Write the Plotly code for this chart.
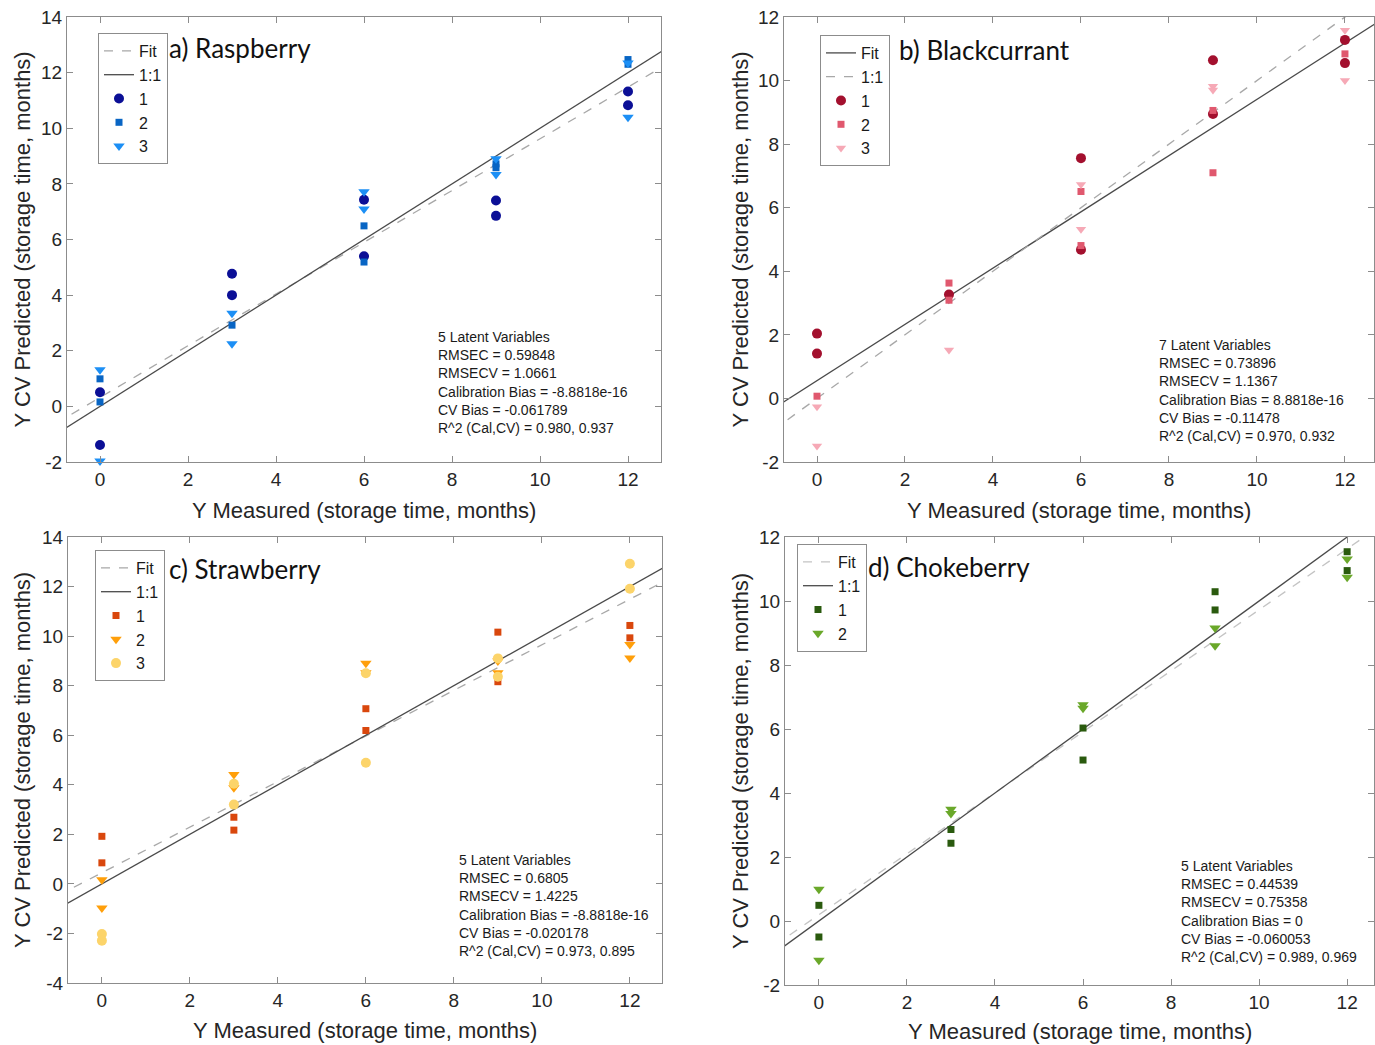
import plotly.graph_objects as go

W, H = 1375, 1045

# ---------------- data ----------------
# a) Raspberry
a_x1 = [0, 0, 3, 3, 6, 6, 9, 9, 12, 12]
a_y1 = [0.51, -1.39, 4.77, 4.00, 7.43, 5.40, 7.40, 6.85, 11.32, 10.83]
a_x2 = [0, 0, 3, 6, 6, 9, 9, 12, 12]
a_y2 = [0.99, 0.16, 2.92, 6.49, 5.19, 8.72, 8.58, 12.47, 12.30]
a_x3 = [0, 0, 3, 3, 6, 6, 9, 9, 12, 12]
a_y3 = [1.32, -1.96, 3.35, 2.25, 7.72, 7.10, 8.90, 8.34, 12.35, 10.40]
a_fit = (0.93, 0.32)
a_stats = ["5 Latent Variables", "RMSEC = 0.59848", "RMSECV = 1.0661",
           "Calibration Bias = -8.8818e-16", "CV Bias = -0.061789",
           "R^2 (Cal,CV) = 0.980, 0.937"]

# b) Blackcurrant
b_x1 = [0, 0, 3, 6, 6, 9, 9, 12, 12]
b_y1 = [2.04, 1.41, 3.27, 7.56, 4.68, 10.64, 8.95, 11.28, 10.55]
b_x2 = [0, 3, 3, 6, 6, 9, 9, 12]
b_y2 = [0.07, 3.63, 3.09, 6.51, 4.81, 9.06, 7.10, 10.84]
b_x3 = [0, 0, 3, 6, 6, 9, 9, 12, 12]
b_y3 = [-0.26, -1.50, 1.52, 6.73, 5.32, 9.82, 9.70, 11.58, 10.00]
b_fit = (0.885, 0.56)
b_stats = ["7 Latent Variables", "RMSEC = 0.73896", "RMSECV = 1.1367",
           "Calibration Bias = 8.8818e-16", "CV Bias = -0.11478",
           "R^2 (Cal,CV) = 0.970, 0.932"]

# c) Strawberry
c_x1 = [0, 0, 3, 3, 6, 6, 9, 9, 12, 12]
c_y1 = [1.92, 0.85, 2.69, 2.17, 7.07, 6.19, 10.16, 8.16, 10.43, 9.93]
c_x2 = [0, 0, 3, 3, 6, 6, 9, 9, 12, 12]
c_y2 = [0.17, -0.97, 4.41, 3.88, 8.90, 8.52, 8.52, 9.00, 9.66, 9.12]
c_x3 = [0, 0, 3, 3, 6, 6, 9, 9, 12, 12]
c_y3 = [-2.02, -2.29, 4.04, 3.20, 8.50, 4.89, 9.10, 8.36, 12.92, 11.91]
c_fit = (0.92, 0.45)
c_stats = ["5 Latent Variables", "RMSEC = 0.6805", "RMSECV = 1.4225",
           "Calibration Bias = -8.8818e-16", "CV Bias = -0.020178",
           "R^2 (Cal,CV) = 0.973, 0.895"]

# d) Chokeberry
d_x1 = [0, 0, 3, 3, 6, 6, 9, 9, 12, 12]
d_y1 = [0.49, -0.50, 2.86, 2.43, 6.03, 5.03, 10.29, 9.72, 11.54, 10.95]
d_x2 = [0, 0, 3, 3, 6, 6, 9, 9, 12, 12]
d_y2 = [0.99, -1.23, 3.49, 3.36, 6.76, 6.65, 9.16, 8.60, 11.31, 10.74]
d_fit = (0.953, 0.195)
d_stats = ["5 Latent Variables", "RMSEC = 0.44539", "RMSECV = 0.75358",
           "Calibration Bias = 0", "CV Bias = -0.060053",
           "R^2 (Cal,CV) = 0.989, 0.969"]

titles = ["a) Raspberry", "b) Blackcurrant", "c) Strawberry", "d) Chokeberry"]
x_title = "Y Measured (storage time, months)"
y_title = "Y CV Predicted (storage time, months)"
x_ticks = [0, 2, 4, 6, 8, 10, 12]
y_ticks_a = [-2, 0, 2, 4, 6, 8, 10, 12, 14]
y_ticks_b = [-2, 0, 2, 4, 6, 8, 10, 12]
y_ticks_c = [-4, -2, 0, 2, 4, 6, 8, 10, 12, 14]
y_ticks_d = [-2, 0, 2, 4, 6, 8, 10, 12]
line_x = [-1, 13]

# ---------------- layout config ----------------
DARK = "#4a4a4a"
LIGHT = "#a8a8a8"
panels = [
    dict(box=(67, 17, 661, 462), xr=[-0.75, 12.75], yr=[-2, 14], yt=y_ticks_a,
         series=[(a_x1, a_y1, "circle", "#0b0f96", 10),
                 (a_x2, a_y2, "square", "#0865c4", 7),
                 (a_x3, a_y3, "triangle-down", "#1c8ff5", 10)],
         fit=a_fit, fit_solid=False, fit_col=LIGHT, stats=a_stats,
         leg=(98, 33), title=(167, 48), stat_pos=(436, 337), xt_y=510, yt_x=22),
    dict(box=(784, 17, 1374, 462), xr=[-0.75, 12.66], yr=[-2, 12], yt=y_ticks_b,
         series=[(b_x1, b_y1, "circle", "#a3102e", 10),
                 (b_x2, b_y2, "square", "#e0586e", 7),
                 (b_x3, b_y3, "triangle-down", "#f6a9b6", 9)],
         fit=b_fit, fit_solid=True, fit_col=DARK, stats=b_stats,
         leg=(820, 35), title=(897, 50), stat_pos=(1157, 345), xt_y=510, yt_x=740),
    dict(box=(68, 537, 662, 983), xr=[-0.77, 12.73], yr=[-4, 14], yt=y_ticks_c,
         series=[(c_x1, c_y1, "square", "#d9470d", 7),
                 (c_x2, c_y2, "triangle-down", "#ff9f0a", 10),
                 (c_x3, c_y3, "circle", "#fcd46a", 10)],
         fit=c_fit, fit_solid=False, fit_col=LIGHT, stats=c_stats,
         leg=(95, 550), title=(167, 569), stat_pos=(457, 860), xt_y=1030, yt_x=22),
    dict(box=(785, 537, 1374, 985), xr=[-0.77, 12.61], yr=[-2, 12], yt=y_ticks_d,
         series=[(d_x1, d_y1, "square", "#2a5a0e", 7),
                 (d_x2, d_y2, "triangle-down", "#6aa82a", 10)],
         fit=d_fit, fit_solid=False, fit_col="#c4c4c4", stats=d_stats,
         leg=(797, 544), title=(866, 567), stat_pos=(1179, 866), xt_y=1031, yt_x=740),
]

TICK_FONT = dict(family="Liberation Sans, Arial, sans-serif", size=19, color="#262626")
fig = go.Figure()
annotations = []

for i, p in enumerate(panels):
    k = "" if i == 0 else str(i + 1)
    xa, ya = "x" + k, "y" + k
    leg = "legend" + k
    x0, y0, x1, y1 = p["box"]
    slope, icpt = p["fit"]
    fit_y = [slope * v + icpt for v in line_x]
    fit_line = dict(color=DARK, width=1.3) if p["fit_solid"] else dict(color=p["fit_col"], width=1.3, dash="dash")
    one_line = dict(color=LIGHT, width=1.3, dash="dash") if p["fit_solid"] else dict(color=DARK, width=1.3)
    fig.add_trace(go.Scatter(x=line_x, y=fit_y, mode="lines", name="Fit", line=fit_line,
                             xaxis=xa, yaxis=ya, legend=leg, hoverinfo="skip"))
    fig.add_trace(go.Scatter(x=line_x, y=line_x, mode="lines", name="1:1", line=one_line,
                             xaxis=xa, yaxis=ya, legend=leg, hoverinfo="skip"))
    for j, (sx, sy, sym, col, sz) in enumerate(p["series"]):
        fig.add_trace(go.Scatter(x=sx, y=sy, mode="markers", name=str(j + 1),
                                 marker=dict(symbol=sym, color=col, size=sz, line=dict(width=0)),
                                 xaxis=xa, yaxis=ya, legend=leg, cliponaxis=False))
    axis_common = dict(showline=True, linecolor="#8c8c8c", linewidth=1, mirror="ticks",
                       ticks="inside", ticklen=6, tickcolor="#8c8c8c", showgrid=False,
                       zeroline=False, tickfont=TICK_FONT, automargin=False)
    fig.update_layout(**{
        "xaxis" + k: dict(domain=[x0 / W, x1 / W], range=p["xr"], anchor=ya,
                          tickvals=x_ticks, ticktext=[str(v) for v in x_ticks], **axis_common),
        "yaxis" + k: dict(domain=[1 - y1 / H, 1 - y0 / H], range=p["yr"], anchor=xa,
                          tickvals=p["yt"], ticktext=[str(v) for v in p["yt"]], **axis_common),
        leg: dict(x=p["leg"][0] / W, y=1 - p["leg"][1] / H, xanchor="left", yanchor="top",
                  bordercolor="#8c8c8c", borderwidth=1, bgcolor="white",
                  font=dict(family="Liberation Sans, Arial, sans-serif", size=16, color="#1a1a1a"),
                  tracegroupgap=0, itemwidth=30),
    })
    # panel title
    annotations.append(dict(x=p["title"][0] / W, y=1 - p["title"][1] / H, xref="paper", yref="paper",
                            text=titles[i], showarrow=False, xanchor="left", yanchor="middle",
                            font=dict(family="Lato, Noto Sans, sans-serif", size=26, color="#111")))
    # stats text
    sx0, sy0 = p["stat_pos"]
    for li, txt in enumerate(p["stats"]):
        annotations.append(dict(x=sx0 / W, y=1 - (sy0 + li * 18.2) / H, xref="paper", yref="paper",
                                text=txt, showarrow=False, xanchor="left", yanchor="middle",
                                font=dict(family="Liberation Sans, Arial, sans-serif", size=14, color="#1a1a1a")))
    # axis titles
    annotations.append(dict(x=(x0 + x1) / 2 / W, y=1 - p["xt_y"] / H, xref="paper", yref="paper",
                            text=x_title, showarrow=False, xanchor="center", yanchor="middle",
                            font=dict(family="Liberation Sans, Arial, sans-serif", size=22, color="#262626")))
    annotations.append(dict(x=p["yt_x"] / W, y=1 - (y0 + y1) / 2 / H, xref="paper", yref="paper",
                            text=y_title, showarrow=False, xanchor="center", yanchor="middle", textangle=-90,
                            font=dict(family="Liberation Sans, Arial, sans-serif", size=22, color="#262626")))

fig.update_layout(width=W, height=H, margin=dict(l=0, r=0, t=0, b=0, autoexpand=False),
                  paper_bgcolor="white", plot_bgcolor="white",
                  annotations=annotations, showlegend=True)

fig.write_html("out.html")
